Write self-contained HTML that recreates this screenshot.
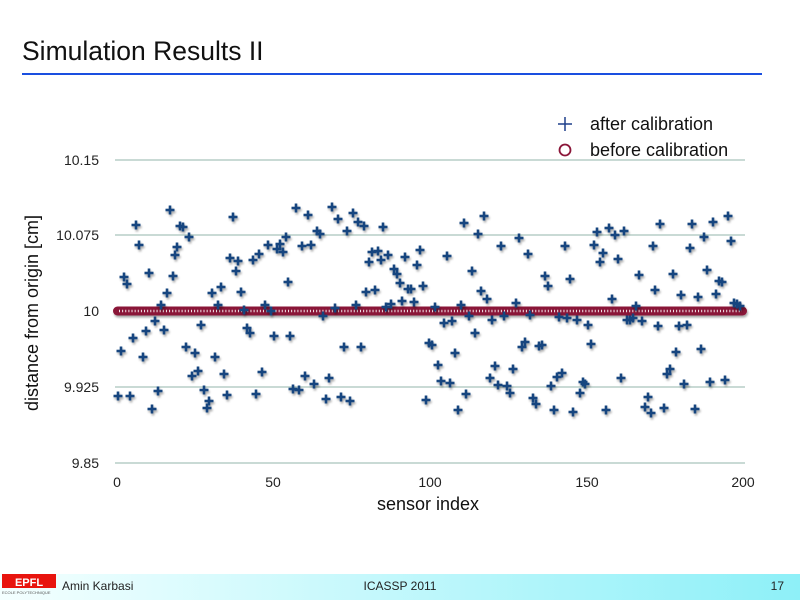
<!DOCTYPE html>
<html><head><meta charset="utf-8"><style>
html,body{margin:0;padding:0;background:#fff;}
body{width:800px;height:600px;overflow:hidden;position:relative;font-family:"Liberation Sans",sans-serif;}
</style></head><body>
<svg id="s" width="800" height="600" xmlns="http://www.w3.org/2000/svg" style="position:absolute;left:0;top:0">
<defs>
<linearGradient id="ft" x1="0" x2="1" y1="0" y2="0">
<stop offset="0" stop-color="#f4ffff"/><stop offset="1" stop-color="#8ef0f8"/>
</linearGradient>
<filter id="sh" filterUnits="userSpaceOnUse" x="0" y="0" width="800" height="600"><feDropShadow dx="1" dy="2" stdDeviation="1" flood-color="#000" flood-opacity="0.35"/></filter>
</defs>
<text x="22" y="60" font-size="26.5" fill="#111" font-family="Liberation Sans,sans-serif">Simulation Results II</text>
<rect x="22" y="73" width="740" height="2" fill="#1a4fe0"/>
<g stroke="#a9c4bc" stroke-width="1.2">
<line x1="115" x2="745" y1="160" y2="160"/><line x1="115" x2="745" y1="235" y2="235"/>
<line x1="115" x2="745" y1="387" y2="387"/><line x1="115" x2="745" y1="463" y2="463"/>
</g>
<g font-size="14" fill="#222" text-anchor="end" font-family="Liberation Sans,sans-serif">
<text x="99" y="165">10.15</text><text x="99" y="240">10.075</text><text x="99" y="316">10</text>
<text x="99" y="392">9.925</text><text x="99" y="468">9.85</text>
</g>
<g font-size="14" fill="#222" text-anchor="middle" font-family="Liberation Sans,sans-serif">
<text x="117" y="487">0</text><text x="273" y="487">50</text><text x="430" y="487">100</text>
<text x="587" y="487">150</text><text x="743" y="487">200</text>
</g>
<text x="428" y="510" font-size="18" text-anchor="middle" fill="#111">sensor index</text>
<text transform="translate(38,313) rotate(-90)" font-size="18" text-anchor="middle" fill="#111">distance from origin [cm]</text>
<rect x="113" y="306.5" width="634" height="9" rx="4.5" fill="#8a1538" filter="url(#sh)"/>
<line x1="119" x2="742" y1="311" y2="311" stroke="#f4e4ea" stroke-width="2.5" stroke-dasharray="1 2.13"/>
<g id="pts" filter="url(#sh)" stroke="#18457f" stroke-width="2.6"></g>
<text x="590" y="130" font-size="18" fill="#111">after calibration</text>
<text x="590" y="156" font-size="18" fill="#111">before calibration</text>
<g stroke="#1d3f8a" stroke-width="1.5"><line x1="558" x2="572" y1="124" y2="124"/><line x1="565" x2="565" y1="117" y2="131"/></g>
<circle cx="565" cy="150" r="5.5" fill="none" stroke="#8a1538" stroke-width="1.8"/>
<rect x="0" y="574" width="800" height="26" fill="url(#ft)"/>
<rect x="2" y="574" width="54" height="14" fill="#e8140e"/>
<text x="29" y="586" font-size="11" font-weight="bold" fill="#fff" text-anchor="middle">EPFL</text>
<text x="2" y="594" font-size="4" fill="#555">ECOLE POLYTECHNIQUE</text>
<text x="62" y="590" font-size="12" fill="#222">Amin Karbasi</text>
<text x="400" y="590" font-size="12" fill="#222" text-anchor="middle">ICASSP 2011</text>
<text x="784" y="590" font-size="12" fill="#222" text-anchor="end">17</text>
</svg>
<script>
var p=[[118,396],[121,351],[124,277],[127,284],[130,396],[133,338],[136,225],[139,245],[143,357],[146,331],[149,273],[152,409],[155,321],[158,391],[161,305],[164,330],[167,293],[170,210],[173,276],[175,255],[177,247],[180,226],[183,227],[186,347],[189,237],[192,376],[195,353],[198,371],[201,325],[204,390],[207,408],[209,401],[212,293],[215,357],[218,305],[221,287],[224,374],[227,395],[230,258],[233,217],[236,271],[238,261],[241,292],[244,310],[247,328],[250,333],[253,260],[256,394],[259,254],[262,372],[265,305],[268,245],[271,311],[274,336],[277,249],[280,244],[283,252],[286,237],[288,282],[290,336],[293,389],[296,208],[299,390],[302,246],[305,376],[308,215],[311,245],[314,384],[317,231],[320,234],[323,316],[326,399],[329,378],[332,207],[335,308],[338,219],[341,397],[344,347],[347,231],[350,401],[353,213],[356,305],[358,222],[361,347],[364,226],[366,292],[369,262],[372,252],[375,290],[378,251],[381,260],[383,227],[386,307],[388,255],[391,304],[394,269],[397,274],[400,283],[402,301],[405,257],[408,289],[411,289],[414,302],[417,265],[420,250],[423,286],[426,400],[429,343],[432,345],[435,307],[438,365],[441,381],[444,323],[447,256],[450,383],[452,321],[455,353],[458,410],[461,305],[464,223],[466,394],[469,316],[472,271],[475,333],[478,234],[481,291],[484,216],[487,299],[490,378],[492,320],[495,366],[498,385],[501,246],[504,316],[507,386],[510,393],[513,369],[516,303],[519,238],[522,347],[525,342],[528,254],[530,315],[533,398],[536,404],[539,346],[542,345],[545,276],[548,286],[551,386],[554,410],[557,377],[559,317],[562,373],[565,246],[567,318],[570,279],[573,412],[577,320],[580,393],[583,382],[585,384],[588,325],[591,344],[594,245],[597,232],[600,262],[603,253],[606,410],[609,228],[612,299],[615,235],[618,259],[621,378],[624,231],[627,320],[630,320],[633,318],[636,306],[639,275],[642,321],[645,407],[648,397],[651,413],[653,246],[655,290],[658,326],[660,224],[664,408],[667,374],[670,369],[673,274],[676,352],[679,326],[681,295],[684,384],[687,325],[690,248],[692,224],[695,409],[698,297],[701,349],[704,237],[707,270],[710,382],[713,222],[716,294],[719,281],[722,282],[725,380],[728,216],[731,241],[734,303],[737,304],[740,306]];
var g=document.getElementById('pts'),h='';
p.forEach(function(q){var x=q[0],y=q[1];h+='<line x1="'+(x-4.5)+'" x2="'+(x+4.5)+'" y1="'+y+'" y2="'+y+'"/><line x1="'+x+'" x2="'+x+'" y1="'+(y-4.5)+'" y2="'+(y+4.5)+'"/>';});
g.innerHTML=h;
</script>
</body></html>
